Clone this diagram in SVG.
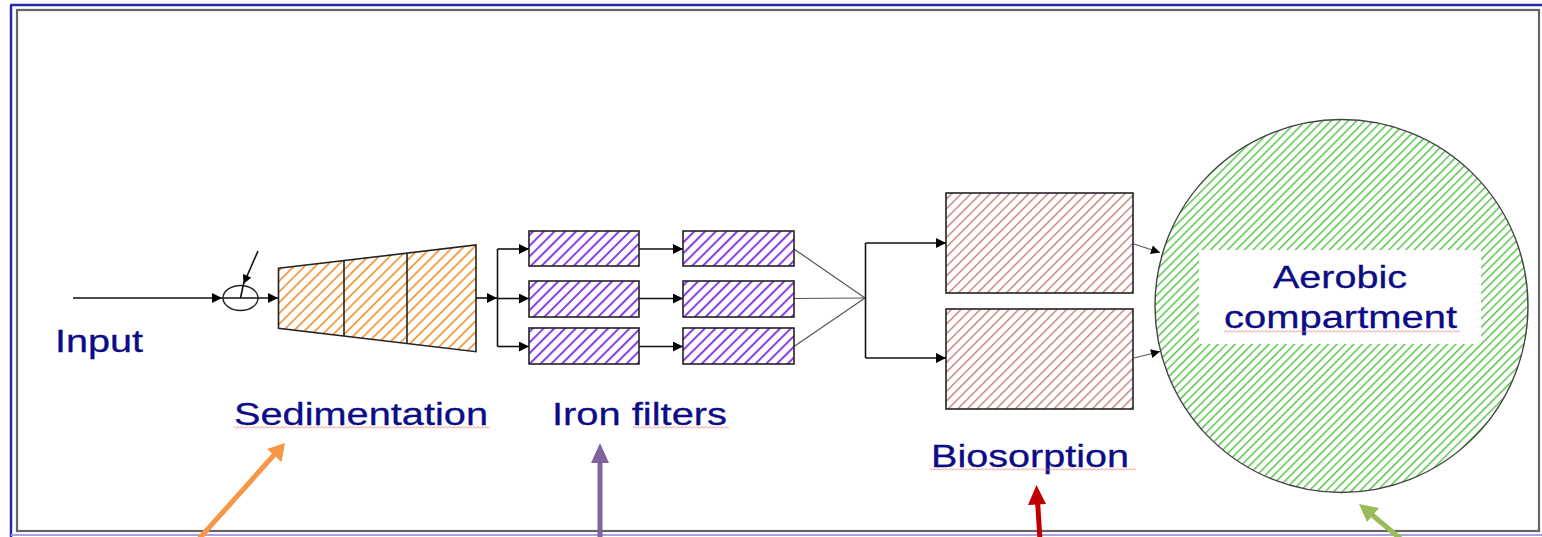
<svg xmlns="http://www.w3.org/2000/svg" width="1542" height="537" viewBox="0 0 1542 537">
<style>
.lbl{font-family:"Liberation Sans",Arial,sans-serif;font-size:32px;fill:#0c0c86;stroke:#0c0c86;stroke-width:0.3}
.con{stroke:#111;stroke-width:1.6;fill:none}
.thin{stroke:#555;stroke-width:1.2;fill:none}
.box{stroke:#222;stroke-width:1.6}
</style>
<defs>
<marker id="ah" viewBox="0 0 10 10" refX="10" refY="5" markerWidth="11" markerHeight="10" markerUnits="userSpaceOnUse" orient="auto"><path d="M0,0 L10,5 L0,10 z" fill="#000"/></marker>
<marker id="ahs" viewBox="0 0 10 10" refX="10" refY="5" markerWidth="10" markerHeight="9" markerUnits="userSpaceOnUse" orient="auto"><path d="M0,0 L10,5 L0,10 z" fill="#000"/></marker>
<pattern id="hOrange" width="7.6" height="7.6" patternUnits="userSpaceOnUse" patternTransform="rotate(45)"><rect x="0" y="0" width="1.8" height="7.6" fill="#f59a40"/></pattern>
<pattern id="hPurple" width="7.6" height="7.6" patternUnits="userSpaceOnUse" patternTransform="rotate(45)"><rect x="0" y="0" width="2" height="7.6" fill="#8a3ce8"/></pattern>
<pattern id="hBrown" width="6.8" height="6.8" patternUnits="userSpaceOnUse" patternTransform="rotate(45)"><rect x="0" y="0" width="1.4" height="6.8" fill="#c47f72"/></pattern>
<pattern id="hGreen" width="6" height="6" patternUnits="userSpaceOnUse" patternTransform="rotate(45)"><rect x="0" y="0" width="1.4" height="6" fill="#4cc040"/></pattern>
<pattern id="squig" width="4" height="3" patternUnits="userSpaceOnUse"><path d="M0,2.5 L2,0.5 L4,2.5" stroke="#e07878" stroke-width="0.8" fill="none"/></pattern>
</defs>
<rect x="0" y="0" width="1542" height="537" fill="#fff"/>
<g id="frame">
<line x1="10" y1="5" x2="1542" y2="5" stroke="#2a2aa8" stroke-width="2.5"/>
<line x1="11" y1="5" x2="11" y2="537" stroke="#2a2aa8" stroke-width="2.5"/>
<rect x="17" y="10" width="1522" height="521" fill="none" stroke="#666" stroke-width="2.2"/>
<line x1="11" y1="535" x2="1542" y2="535" stroke="#a8a0e0" stroke-width="2"/>
</g>
<g id="connectors">
<line class="con" x1="73" y1="298" x2="222" y2="298" marker-end="url(#ah)"/>
<line class="con" x1="222" y1="298" x2="278" y2="298" marker-end="url(#ah)"/>
<line class="con" x1="258" y1="251" x2="243.5" y2="284" marker-end="url(#ahs)"/>
<line class="con" x1="243.5" y1="284" x2="240.5" y2="298" stroke-width="1"/>
<line class="con" x1="476" y1="298" x2="497" y2="298" marker-end="url(#ah)"/>
<path class="con" d="M497.5,249 V346.5"/>
<line class="con" x1="497.5" y1="249" x2="529" y2="249" marker-end="url(#ah)"/>
<line class="con" x1="497.5" y1="298.5" x2="529" y2="298.5" marker-end="url(#ah)"/>
<line class="con" x1="497.5" y1="346.5" x2="529" y2="346.5" marker-end="url(#ah)"/>
<line class="con" x1="639" y1="249" x2="683" y2="249" marker-end="url(#ah)"/>
<line class="con" x1="639" y1="298.5" x2="683" y2="298.5" marker-end="url(#ah)"/>
<line class="con" x1="639" y1="346.5" x2="683" y2="346.5" marker-end="url(#ah)"/>
<line class="thin" x1="794" y1="249" x2="865" y2="298"/>
<line class="thin" x1="794" y1="298.5" x2="865" y2="298" stroke="#999"/>
<line class="thin" x1="794" y1="346.5" x2="865" y2="298"/>
<path class="con" d="M865.5,243 V358"/>
<line class="con" x1="865.5" y1="243" x2="946" y2="243" marker-end="url(#ah)"/>
<line class="con" x1="865.5" y1="358" x2="946" y2="358" marker-end="url(#ah)"/>
<line class="thin" x1="1134" y1="244" x2="1160" y2="252.5" stroke="#222" marker-end="url(#ahs)"/>
<line class="thin" x1="1134" y1="358" x2="1160" y2="351.5" stroke="#222" marker-end="url(#ahs)"/>
</g>
<g id="pump">
<ellipse cx="240.5" cy="298" rx="17.5" ry="12.5" fill="none" stroke="#222" stroke-width="1.4"/>
</g>
<g id="sedimentation">
<path d="M278.5,268.3 L476,245 L476,351.7 L278.5,328.3 Z" fill="url(#hOrange)" class="box"/>
<line x1="344" y1="260.6" x2="344" y2="336.1" stroke="#222" stroke-width="1.6"/>
<line x1="407" y1="253.1" x2="407" y2="343.6" stroke="#222" stroke-width="1.6"/>
</g>
<g id="iron-filters">
<rect x="529" y="231" width="110" height="35" fill="url(#hPurple)" class="box"/>
<rect x="529" y="281" width="110" height="36" fill="url(#hPurple)" class="box"/>
<rect x="529" y="328" width="110" height="36" fill="url(#hPurple)" class="box"/>
<rect x="683" y="231" width="111" height="35" fill="url(#hPurple)" class="box"/>
<rect x="683" y="281" width="111" height="36" fill="url(#hPurple)" class="box"/>
<rect x="683" y="328" width="111" height="36" fill="url(#hPurple)" class="box"/>
</g>
<g id="biosorption">
<rect x="946" y="193" width="187" height="100" fill="url(#hBrown)" class="box"/>
<rect x="946" y="309" width="187" height="100" fill="url(#hBrown)" class="box"/>
</g>
<g id="aerobic">
<circle cx="1341.5" cy="306" r="186.5" fill="url(#hGreen)" stroke="#444" stroke-width="1.4"/>
<rect x="1199" y="250" width="282" height="94" fill="#fff"/>
<text class="lbl" x="1273" y="288" textLength="134" lengthAdjust="spacingAndGlyphs">Aerobic</text>
<text class="lbl" x="1224" y="328" textLength="233" lengthAdjust="spacingAndGlyphs">compartment</text>
<rect x="1224" y="330" width="236" height="3" fill="url(#squig)"/>
</g>
<g id="labels">
<text class="lbl" x="55" y="352" textLength="88" lengthAdjust="spacingAndGlyphs">Input</text>
<text class="lbl" x="234" y="425" textLength="254" lengthAdjust="spacingAndGlyphs">Sedimentation</text>
<rect x="234" y="426" width="256" height="3" fill="url(#squig)"/>
<text class="lbl" x="552" y="425" textLength="175" lengthAdjust="spacingAndGlyphs">Iron filters</text>
<rect x="633" y="426" width="96" height="3" fill="url(#squig)"/>
<text class="lbl" x="931" y="467" textLength="198" lengthAdjust="spacingAndGlyphs">Biosorption</text>
<rect x="930" y="468" width="206" height="3" fill="url(#squig)"/>
</g>
<g id="pointers">
<line x1="198" y1="540" x2="274" y2="455" stroke="#f79646" stroke-width="5"/>
<path d="M285,443 L281.5,462 L267,449 Z" fill="#f79646"/>
<line x1="600" y1="540" x2="600" y2="460" stroke="#8064a2" stroke-width="5"/>
<path d="M600,443 L609,463 L591,463 Z" fill="#8064a2"/>
<line x1="1040" y1="540" x2="1037.5" y2="500" stroke="#c00000" stroke-width="5"/>
<path d="M1036.5,485 L1046,504 L1028,505 Z" fill="#c00000"/>
<line x1="1402" y1="540" x2="1371" y2="514" stroke="#9bbb59" stroke-width="5"/>
<path d="M1359,504 L1379,508 L1367,522 Z" fill="#9bbb59"/>
</g>
</svg>
